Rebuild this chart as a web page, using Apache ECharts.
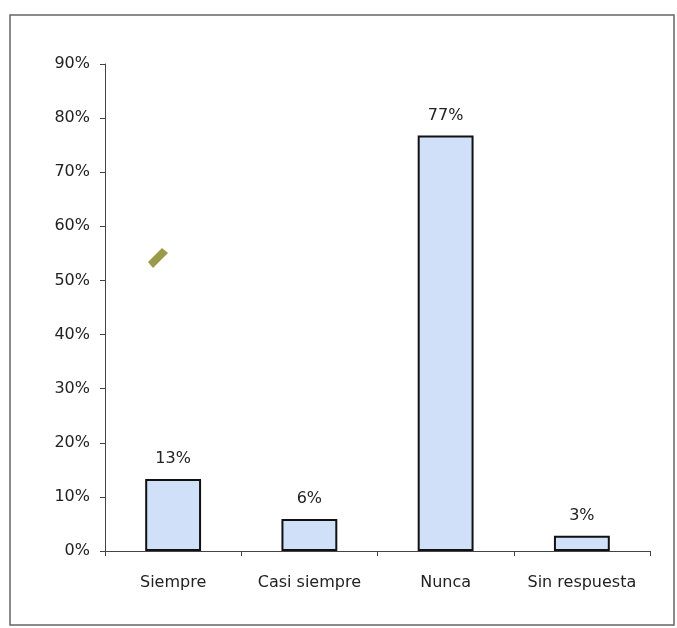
<!DOCTYPE html>
<html>
<head>
<meta charset="utf-8">
<script src="https://cdn.jsdelivr.net/npm/echarts@6/dist/echarts.min.js"></script>
<style>html,body{margin:0;padding:0;background:#fff;}#c{width:677px;height:628px;}</style>
</head>
<body>
<div id="c"></div>
<script>
var categories = ['Siempre', 'Casi siempre', 'Nunca', 'Sin respuesta'];
var values = [13.3, 5.9, 76.8, 2.8];
var valueLabels = ['13%', '6%', '77%', '3%'];
var yTicks = [0, 10, 20, 30, 40, 50, 60, 70, 80, 90];

var FONT = 'DejaVu Sans, Liberation Sans, Arial, sans-serif';
var chart = echarts.init(document.getElementById('c'));
chart.setOption({
  animation: false,
  backgroundColor: '#ffffff',
  graphic: [{
    type: 'rect',
    shape: { x: 10, y: 15, width: 664, height: 610 },
    style: { fill: 'none', stroke: '#666', lineWidth: 1.5 },
    silent: true
  }, {
    type: 'polygon',
    shape: { points: [[148, 262], [162, 248], [168, 253], [153, 268]] },
    style: { fill: '#9a9a4a' },
    silent: true
  }],
  grid: { left: 105, right: 27, top: 64, bottom: 77, containLabel: false },
  xAxis: {
    type: 'category',
    data: categories,
    axisLine: { lineStyle: { color: '#444', width: 1 } },
    axisTick: { show: true, length: 5, interval: 0, alignWithLabel: false, lineStyle: { color: '#444' } },
    axisLabel: { color: '#222', fontSize: 16, fontFamily: FONT, margin: 24, interval: 0, hideOverlap: false }
  },
  yAxis: {
    type: 'value',
    min: yTicks[0],
    max: yTicks[yTicks.length - 1],
    interval: 10,
    splitLine: { show: false },
    axisLine: { show: true, lineStyle: { color: '#444', width: 1 } },
    axisTick: { show: true, length: 5, lineStyle: { color: '#444' } },
    axisLabel: { color: '#222', fontSize: 16, fontFamily: FONT, margin: 15, formatter: '{value}%' }
  },
  series: [{
    type: 'bar',
    data: values,
    barWidth: '41%',
    itemStyle: { color: '#cfe0f8', borderColor: '#111', borderWidth: 2 },
    label: {
      show: true,
      position: 'top',
      distance: 12,
      color: '#222',
      fontSize: 16,
      fontFamily: FONT,
      formatter: function (p) { return valueLabels[p.dataIndex]; }
    }
  }]
});
</script>
</body>
</html>
